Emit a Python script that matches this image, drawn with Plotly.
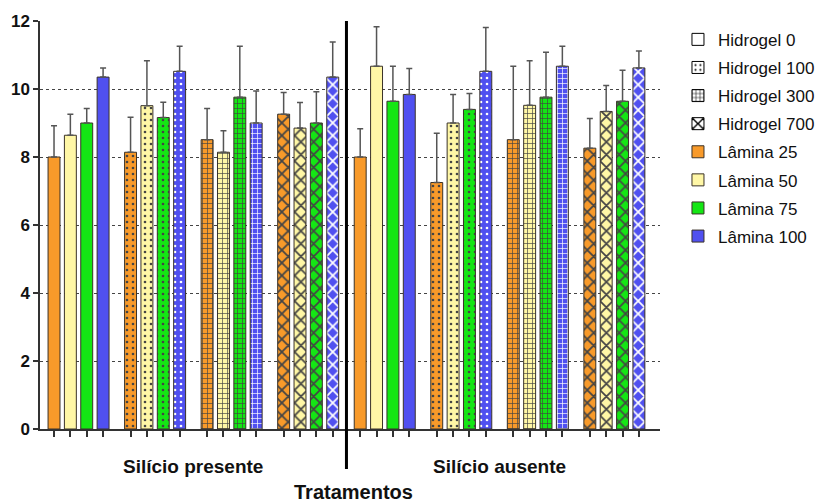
import plotly.graph_objects as go

# ---- data ----
silicio = ["Silício presente", "Silício ausente"]
hidrogel = ["Hidrogel 0", "Hidrogel 100", "Hidrogel 300", "Hidrogel 700"]
laminas = ["Lâmina 25", "Lâmina 50", "Lâmina 75", "Lâmina 100"]

# means per group (silicio x hidrogel), each list in laminas order
means = [
    [8.00, 8.64, 9.00, 10.35],   # Si presente, Hidrogel 0
    [8.14, 9.51, 9.16, 10.52],   # Si presente, Hidrogel 100
    [8.51, 8.14, 9.76, 9.00],    # Si presente, Hidrogel 300
    [9.26, 8.85, 9.00, 10.35],   # Si presente, Hidrogel 700
    [8.00, 10.67, 9.64, 9.84],   # Si ausente, Hidrogel 0
    [7.25, 9.00, 9.40, 10.52],   # Si ausente, Hidrogel 100
    [8.51, 9.52, 9.76, 10.67],   # Si ausente, Hidrogel 300
    [8.26, 9.34, 9.64, 10.62],   # Si ausente, Hidrogel 700
]
# top of error bars
err_top = [
    [8.92, 9.26, 9.43, 10.62],
    [9.17, 10.83, 9.61, 11.26],
    [9.43, 8.77, 11.26, 9.94],
    [9.90, 9.60, 9.92, 11.38],
    [8.83, 11.83, 10.67, 10.60],
    [8.70, 9.84, 9.87, 11.81],
    [10.67, 10.83, 11.08, 11.26],
    [9.13, 10.10, 10.55, 11.12],
]

# ---- styles ----
colors = ["#F89A2A", "#FFF7A6", "#14E614", "#5050F0"]
shapes = ["", ".", "+", "x"]
psizes = [8, 6, 5, 9]
psolid = [0.3, 0.15, 0.25, 0.35]
border = "#3a3228"

group_step = 4.68
bar_w = 0.73

fig = go.Figure()

tickvals = []
for g in range(8):
    h = g % 4
    xs = [g * group_step + j for j in range(4)]
    tickvals += xs
    fig.add_trace(go.Bar(
        x=xs, y=means[g], width=bar_w,
        marker=dict(
            color=colors,
            line=dict(color=border, width=1),
            pattern=dict(shape=shapes[h], fgcolor="black", fgopacity=1,
                         size=psizes[h], solidity=psolid[h], fillmode="overlay"),
        ),
        error_y=dict(type="data", symmetric=False,
                     array=[t - m for t, m in zip(err_top[g], means[g])],
                     arrayminus=[0, 0, 0, 0],
                     color="#555555", thickness=1.5, width=3),
        showlegend=False, hoverinfo="skip",
    ))

# legend entries
for h in range(4):
    fig.add_trace(go.Bar(
        x=[None], y=[None], name=hidrogel[h], legendgroup=hidrogel[h],
        marker=dict(color="white", line=dict(color="black", width=1),
                    pattern=dict(shape=shapes[h], fgcolor="black", fgopacity=1,
                                 size=psizes[h], solidity=psolid[h], fillmode="overlay")),
    ))
for k in range(4):
    fig.add_trace(go.Bar(
        x=[None], y=[None], name=laminas[k], legendgroup=laminas[k],
        marker=dict(color=colors[k], line=dict(color=border, width=1)),
    ))

last = 7 * group_step + 3
divider_x = (3 * group_step + 3 + 4 * group_step) / 2
mid1 = (0 + 3 * group_step + 3) / 2
mid2 = (4 * group_step + last) / 2

fig.add_shape(type="line", xref="x", yref="paper", x0=divider_x, x1=divider_x,
              y0=-0.098, y1=1.0, line=dict(color="black", width=3))

font_b = dict(family="Liberation Sans, Arial, sans-serif", size=19, color="#111111")
fig.add_annotation(x=mid1, y=-0.093, xref="x", yref="paper", text="<b>Silício presente</b>",
                   showarrow=False, font=font_b, yanchor="middle")
fig.add_annotation(x=mid2, y=-0.093, xref="x", yref="paper", text="<b>Silício ausente</b>",
                   showarrow=False, font=font_b, yanchor="middle")
fig.add_annotation(x=divider_x + 0.4, y=-0.155, xref="x", yref="paper", text="<b>Tratamentos</b>",
                   showarrow=False, font=dict(font_b, size=20), yanchor="middle")

fig.update_layout(
    width=822, height=502,
    margin=dict(l=40, r=162, t=21, b=73, autoexpand=False),
    paper_bgcolor="white", plot_bgcolor="white",
    barmode="overlay",
    font=dict(family="Liberation Sans, Arial, sans-serif", color="#111111"),
    xaxis=dict(range=[-0.857, last + 1.29], tickvals=tickvals,
               ticktext=[""] * len(tickvals), ticks="outside", ticklen=6,
               tickcolor="#333333", tickwidth=1.5, showline=True,
               linecolor="#333333", linewidth=1.5, showgrid=False, zeroline=False),
    yaxis=dict(range=[0, 12], dtick=2, ticks="outside", ticklen=5,
               tickcolor="#333333", tickwidth=1.5, showline=True,
               linecolor="#333333", linewidth=1.5, showgrid=True,
               gridcolor="#444444", griddash="dot", gridwidth=1, zeroline=False,
               tickfont=dict(size=17, family="Liberation Sans, Arial, sans-serif",
                             weight="bold")),
    legend=dict(x=1.029, y=0.998, xanchor="left", yanchor="top",
                font=dict(size=17), tracegroupgap=3, traceorder="grouped",
                bgcolor="rgba(0,0,0,0)"),
)

fig.write_html("out.html")
